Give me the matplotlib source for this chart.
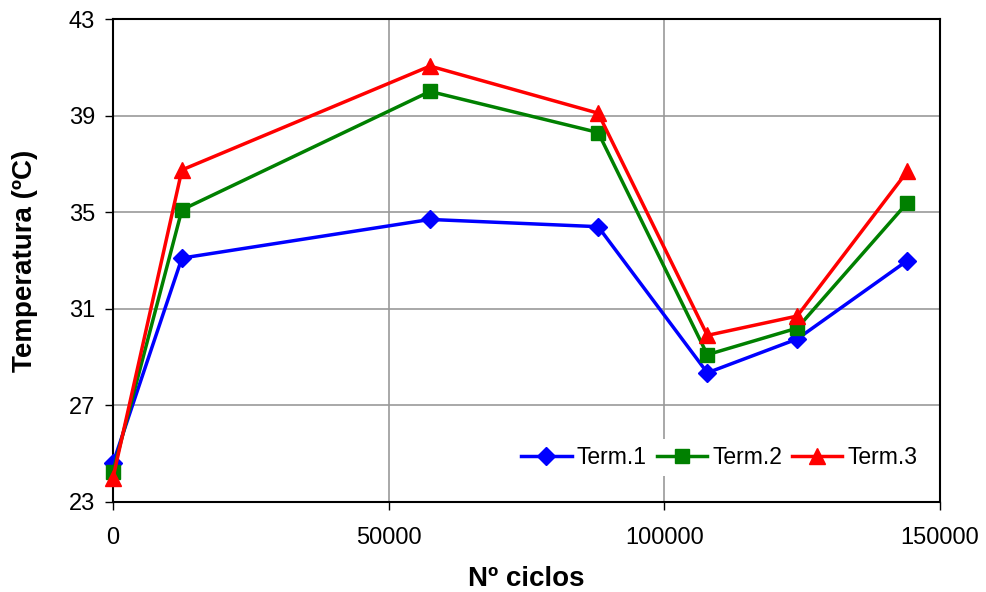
import matplotlib
matplotlib.use("Agg")
import matplotlib.pyplot as plt

plt.rcParams['font.family'] = ['Liberation Sans', 'DejaVu Sans']

ciclos = [0, 12500, 57500, 88000, 107800, 124100, 144100]
term1 = [24.6, 33.1, 34.7, 34.4, 28.35, 29.75, 33.0]
term2 = [24.25, 35.1, 40.0, 38.3, 29.1, 30.2, 35.4]
term3 = [24.0, 36.75, 41.05, 39.1, 29.9, 30.7, 36.7]
labels = ['Term.1', 'Term.2', 'Term.3']
yticks = [23, 27, 31, 35, 39, 43]
xticks = [0, 50000, 100000, 150000]

fig = plt.figure(figsize=(9.86, 5.92), dpi=100)
ax = fig.add_axes([113/986, 1-502/592, (940-113)/986, (502-19)/592])

ax.plot(ciclos, term1, color='#0000FF', marker='D', markersize=9, lw=2.5, label=labels[0], zorder=5, clip_on=False)
ax.plot(ciclos, term2, color='#008000', marker='s', markersize=10, lw=2.5, label=labels[1], zorder=5, clip_on=False)
ax.plot(ciclos, term3, color='#FF0000', marker='^', markersize=11, lw=2.5, label=labels[2], zorder=5, clip_on=False)

ax.set_xlim(0, 150000)
ax.set_ylim(23, 43)
ax.set_xticks(xticks)
ax.set_yticks(yticks)
ax.tick_params(axis='both', labelsize=17, direction='out', length=6, width=1)
ax.tick_params(axis='x', pad=12)
ax.tick_params(axis='y', pad=7)
ax.grid(True, color='#999999', lw=1.2)
ax.set_axisbelow(True)
for s in ax.spines.values():
    s.set_linewidth(1.5)
    s.set_color('black')

ax.set_xlabel('Nº ciclos', fontsize=20, fontweight='bold', labelpad=12)
ax.set_ylabel('Temperatura (ºC)', fontsize=20, fontweight='bold', labelpad=22)

leg = ax.legend(loc='lower right', ncol=3, frameon=True, fontsize=16.5,
                bbox_to_anchor=(0.995, 0.03), handlelength=2.2, handletextpad=0.22,
                columnspacing=0.44, borderpad=0.3)
leg.get_frame().set_edgecolor('none')
leg.get_frame().set_facecolor('white')
leg.get_frame().set_alpha(1)

fig.savefig('out.png', dpi=100)
